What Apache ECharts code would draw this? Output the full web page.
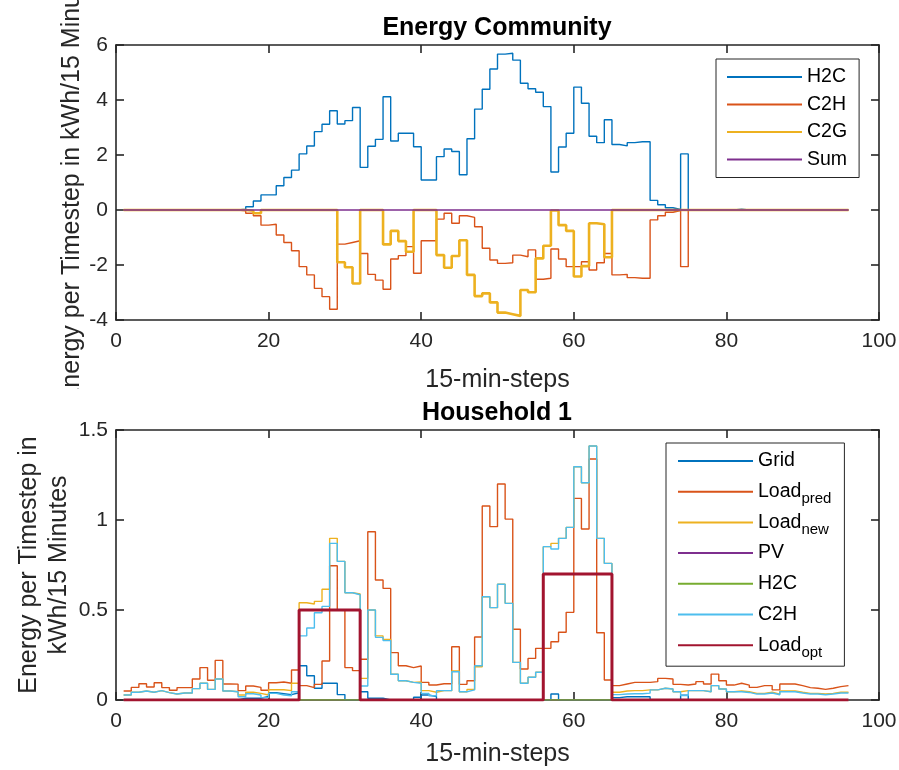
<!DOCTYPE html>
<html lang="en">
<head>
<meta charset="UTF-8">
<title>Energy Community</title>
<script src="https://cdn.jsdelivr.net/npm/echarts@6.0.0/dist/echarts.min.js"></script>
<style>
    html, body { margin: 0; padding: 0; background: #fff; }
    #main { width: 899px; height: 770px; }
</style>
</head>
<body>
<div id="main"></div>
<script type="text/javascript">

    // ---- Energy Community (values per 15-min step, step 1..96) ----
    var commH2C = [
        0, 0, 0, 0, 0, 0, 0, 0, 0, 0,
        0, 0, 0, 0, 0, 0.03, 0.12, 0.33, 0.55, 0.55,
        0.88, 1.18, 1.45, 2.04, 2.33, 2.85, 3.12, 3.61, 3.13, 3.25,
        3.73, 1.55, 2.32, 2.57, 4.12, 2.51, 2.79, 2.79, 2.30, 1.09,
        1.09, 1.94, 2.22, 2.13, 1.28, 2.59, 3.67, 4.39, 5.13, 5.67,
        5.70, 5.45, 4.61, 4.41, 4.28, 3.76, 1.38, 2.29, 2.79, 4.47,
        3.88, 2.68, 2.45, 3.28, 2.38, 2.33, 2.45, 2.48, 2.48, 0.35,
        0.19, 0.08, 0.02, 2.04, 0, 0, 0, 0, 0, 0,
        0.03, 0, 0, 0, 0, 0, 0, 0, 0, 0,
        0, 0, 0, 0, 0, 0
    ];
    var commC2H = [
        0, 0, 0, 0, 0, 0, 0, 0, 0, 0,
        0, 0, 0, 0, 0, -0.03, -0.12, -0.21, -0.55, -0.52,
        -0.91, -1.18, -1.48, -2.06, -2.36, -2.85, -3.15, -3.61, -1.24, -1.18,
        -1.12, -1.58, -2.34, -2.55, -2.88, -1.78, -1.66, -1.33, -2.30, -1.12,
        -1.12, -0.33, -0.12, -0.48, -0.21, -0.27, -0.61, -1.39, -1.82, -1.94,
        -1.92, -1.64, -1.70, -1.45, -2.52, -2.48, -1.42, -1.78, -2.06, -2.06,
        -1.88, -2.18, -1.92, -1.58, -2.36, -2.34, -2.46, -2.48, -2.48, -0.36,
        -0.21, -0.08, -0.02, -2.06, 0, 0, 0, 0, 0, 0,
        0, 0, 0, 0, 0, 0, 0, 0, 0, 0,
        0, 0, 0, 0, 0, 0
    ];
    var commC2G = [
        0, 0, 0, 0, 0, 0, 0, 0, 0, 0,
        0, 0, 0, 0, 0, 0, -0.03, -0.12, 0, 0,
        0, 0, 0, 0, 0, 0, 0, 0, -1.90, -2.08,
        -2.67, 0, 0, 0, -1.25, -0.76, -1.13, -1.52, 0, 0,
        0, -1.64, -2.10, -1.67, -1.10, -2.36, -3.13, -3.03, -3.36, -3.73,
        -3.79, -3.85, -2.91, -2.99, -1.76, -1.30, -0.02, -0.55, -0.76, -2.42,
        -2.04, -0.48, -0.52, -1.72, 0, 0, 0, 0, 0, 0,
        0, 0, 0, 0, 0, 0, 0, 0, 0, 0,
        0, 0, 0, 0, 0, 0, 0, 0, 0, 0,
        0, 0, 0, 0, 0, 0
    ];
    var commSum = [
        0, 0, 0, 0, 0, 0, 0, 0, 0, 0,
        0, 0, 0, 0, 0, 0, 0, 0, 0, 0,
        0, 0, 0, 0, 0, 0, 0, 0, 0, 0,
        0, 0, 0, 0, 0, 0, 0, 0, 0, 0,
        0, 0, 0, 0, 0, 0, 0, 0, 0, 0,
        0, 0, 0, 0, 0, 0, 0, 0, 0, 0,
        0, 0, 0, 0, 0, 0, 0, 0, 0, 0,
        0, 0, 0, 0, 0, 0, 0, 0, 0, 0,
        0, 0, 0, 0, 0, 0, 0, 0, 0, 0,
        0, 0, 0, 0, 0, 0
    ];

    // ---- Household 1 ----
    var hhGrid = [
        0, 0, 0, 0, 0, 0, 0, 0, 0, 0,
        0, 0, 0, 0, 0, 0.01, 0.01, 0.01, 0.02, 0.04,
        0.035, 0.03, 0.04, 0.19, 0.135, 0.065, 0.093, 0.093, 0.03, 0,
        0, 0.046, 0.01, 0.01, 0, 0, 0, 0, 0.015, 0.028,
        0.019, 0, 0, 0, 0, 0, 0, 0, 0, 0,
        0, 0, 0, 0, 0, 0, 0.033, 0, 0, 0,
        0, 0, 0, 0, 0.013, 0.018, 0.018, 0.018, 0.018, 0,
        0, 0, 0, 0.027, 0, 0, 0, 0, 0, 0,
        0, 0, 0, 0, 0, 0, 0, 0, 0, 0,
        0, 0, 0, 0, 0, 0
    ];
    var hhLoadPred = [
        0.05, 0.07, 0.09, 0.072, 0.096, 0.069, 0.054, 0.069, 0.069, 0.117,
        0.18, 0.11, 0.22, 0.089, 0.088, 0.052, 0.078, 0.07, 0.054, 0.096,
        0.10, 0.093, 0.167, 0.08, 0.069, 0.087, 0.217, 0.746, 0.50, 0.18,
        0.163, 0.226, 0.935, 0.667, 0.62, 0.263, 0.19, 0.18, 0.189, 0.098,
        0.083, 0.09, 0.09, 0.296, 0.087, 0.107, 0.35, 1.078, 0.963, 1.20,
        1.005, 0.393, 0.172, 0.231, 0.287, 0.287, 0.324, 0.376, 0.487, 1.12,
        0.95, 1.339, 0.374, 0.111, 0.08, 0.089, 0.098, 0.098, 0.098, 0.102,
        0.12, 0.117, 0.087, 0.083, 0.089, 0.102, 0.089, 0.144, 0.107, 0.083,
        0.093, 0.083, 0.07, 0.08, 0.08, 0.056, 0.089, 0.089, 0.08, 0.069,
        0.065, 0.059, 0.065, 0.074, 0.08, 0.08
    ];
    var hhLoadNew = [
        0.028, 0.043, 0.05, 0.043, 0.052, 0.041, 0.033, 0.039, 0.039, 0.063,
        0.093, 0.059, 0.117, 0.05, 0.046, 0.028, 0.043, 0.037, 0.028, 0.057,
        0.057, 0.052, 0.093, 0.54, 0.533, 0.548, 0.615, 0.898, 0.77, 0.596,
        0.589, 0.12, 0.5, 0.356, 0.337, 0.143, 0.107, 0.098, 0.10, 0.052,
        0.043, 0.052, 0.052, 0.161, 0.046, 0.059, 0.185, 0.574, 0.513, 0.643,
        0.537, 0.209, 0.093, 0.126, 0.154, 0.852, 0.87, 0.898, 0.959, 1.296,
        1.207, 1.411, 0.898, 0.759, 0.043, 0.05, 0.052, 0.052, 0.056, 0.056,
        0.065, 0.061, 0.046, 0.052, 0.052, 0.052, 0.046, 0.08, 0.061, 0.046,
        0.05, 0.046, 0.037, 0.037, 0.043, 0.033, 0.05, 0.05, 0.043, 0.037,
        0.037, 0.033, 0.037, 0.043, 0.043, 0.043
    ];
    var hhPV = [
        0, 0, 0, 0, 0, 0, 0, 0, 0, 0,
        0, 0, 0, 0, 0, 0, 0, 0, 0, 0,
        0, 0, 0, 0, 0, 0, 0, 0, 0, 0,
        0, 0, 0, 0, 0, 0, 0, 0, 0, 0,
        0, 0, 0, 0, 0, 0, 0, 0, 0, 0,
        0, 0, 0, 0, 0, 0, 0, 0, 0, 0,
        0, 0, 0, 0, 0, 0, 0, 0, 0, 0,
        0, 0, 0, 0, 0, 0, 0, 0, 0, 0,
        0, 0, 0, 0, 0, 0, 0, 0, 0, 0,
        0, 0, 0, 0, 0, 0
    ];
    var hhH2C = [
        0, 0, 0, 0, 0, 0, 0, 0, 0, 0,
        0, 0, 0, 0, 0, 0, 0, 0, 0, 0,
        0, 0, 0, 0, 0, 0, 0, 0, 0, 0,
        0, 0, 0, 0, 0, 0, 0, 0, 0, 0,
        0, 0, 0, 0, 0, 0, 0, 0, 0, 0,
        0, 0, 0, 0, 0, 0, 0, 0, 0, 0,
        0, 0, 0, 0, 0, 0, 0, 0, 0, 0,
        0, 0, 0, 0, 0, 0, 0, 0, 0, 0,
        0, 0, 0, 0, 0, 0, 0, 0, 0, 0,
        0, 0, 0, 0, 0, 0
    ];
    var hhC2H = [
        0.028, 0.043, 0.05, 0.043, 0.052, 0.041, 0.033, 0.039, 0.039, 0.063,
        0.093, 0.059, 0.117, 0.05, 0.046, 0.018, 0.035, 0.028, 0.013, 0.037,
        0.028, 0.024, 0.046, 0.356, 0.40, 0.485, 0.52, 0.87, 0.77, 0.596,
        0.585, 0.078, 0.5, 0.348, 0.33, 0.143, 0.107, 0.098, 0.093, 0.037,
        0.024, 0.052, 0.052, 0.157, 0.046, 0.056, 0.19, 0.574, 0.513, 0.643,
        0.537, 0.209, 0.093, 0.126, 0.154, 0.852, 0.839, 0.898, 0.959, 1.296,
        1.207, 1.411, 0.898, 0.759, 0.03, 0.033, 0.035, 0.035, 0.038, 0.056,
        0.065, 0.061, 0.046, 0.025, 0.052, 0.052, 0.046, 0.08, 0.061, 0.046,
        0.046, 0.042, 0.033, 0.033, 0.039, 0.029, 0.046, 0.046, 0.039, 0.033,
        0.033, 0.029, 0.033, 0.039, 0.039, 0.039
    ];
    var hhLoadOpt = [
        0, 0, 0, 0, 0, 0, 0, 0, 0, 0,
        0, 0, 0, 0, 0, 0, 0, 0, 0, 0,
        0, 0, 0, 0.5, 0.5, 0.5, 0.5, 0.5, 0.5, 0.5,
        0.5, 0, 0, 0, 0, 0, 0, 0, 0, 0,
        0, 0, 0, 0, 0, 0, 0, 0, 0, 0,
        0, 0, 0, 0, 0, 0.7, 0.7, 0.7, 0.7, 0.7,
        0.7, 0.7, 0.7, 0.7, 0, 0, 0, 0, 0, 0,
        0, 0, 0, 0, 0, 0, 0, 0, 0, 0,
        0, 0, 0, 0, 0, 0, 0, 0, 0, 0,
        0, 0, 0, 0, 0, 0
    ];

    var xTicks = [0, 20, 40, 60, 80, 100];
    var yTicksTop = [-4, -2, 0, 2, 4, 6];
    var yTicksBottom = [0, 0.5, 1, 1.5];

    var FONT = '"Liberation Sans", Arial, Helvetica, sans-serif';
    var AXC = '#262626';
    var legendLabels = {
        Load_pred: 'Load{s|pred}',
        Load_new: 'Load{s|new}',
        H2C_hh: 'H2C',
        C2H_hh: 'C2H',
        Load_opt: 'Load{s|opt}'
    };

    // stairs: value k holds from step k to step k+1
    function stairs(arr) {
        return arr.map(function (v, k) { return [k + 1, v]; });
    }

    function stepLine(name, arr, color, width, idx) {
        return {
            name: name,
            type: 'line',
            step: 'end',
            xAxisIndex: idx,
            yAxisIndex: idx,
            data: stairs(arr),
            symbol: 'none',
            showSymbol: false,
            lineStyle: {color: color, width: width},
            itemStyle: {color: color},
            emphasis: {disabled: true}
        };
    }

    function xAx(gridIndex, pos, ticks, showLabel, name, gap) {
        return {
            type: 'value', gridIndex: gridIndex, position: pos,
            min: ticks[0], max: ticks[ticks.length - 1], interval: ticks[1] - ticks[0],
            name: name || '', nameLocation: 'middle', nameGap: gap || 0,
            nameTextStyle: {fontSize: 25, color: AXC, fontFamily: FONT},
            axisLine: {show: true, onZero: false, lineStyle: {color: AXC, width: 1.6}},
            axisTick: {show: true, inside: true, length: 8, lineStyle: {color: AXC, width: 1.6}},
            axisLabel: {show: showLabel, fontSize: 21, color: AXC, fontFamily: FONT, margin: 11},
            splitLine: {show: false}
        };
    }

    function yAx(gridIndex, pos, ticks, showLabel, name, gap, lh) {
        return {
            type: 'value', gridIndex: gridIndex, position: pos,
            min: ticks[0], max: ticks[ticks.length - 1], interval: ticks[1] - ticks[0],
            name: name || '', nameLocation: 'middle', nameGap: gap || 0,
            nameMoveOverlap: false,
            nameTextStyle: {fontSize: 25, color: AXC, fontFamily: FONT, lineHeight: lh || 28},
            axisLine: {show: true, onZero: false, lineStyle: {color: AXC, width: 1.6}},
            axisTick: {show: true, inside: true, length: 8, lineStyle: {color: AXC, width: 1.6}},
            axisLabel: {show: showLabel, fontSize: 21, color: AXC, fontFamily: FONT, margin: 8},
            splitLine: {show: false}
        };
    }

    var myChart = echarts.init(document.getElementById('main'), null, {renderer: 'canvas'});

    var option = {
        backgroundColor: '#fff',
        animation: false,
        title: [
            {text: 'Energy Community', left: 497, top: 16, textAlign: 'center', padding: 0,
                textStyle: {fontSize: 25, fontWeight: 'bold', color: '#000', fontFamily: FONT}},
            {text: 'Household 1', left: 497, top: 401, textAlign: 'center', padding: 0,
                textStyle: {fontSize: 25, fontWeight: 'bold', color: '#000', fontFamily: FONT}}
        ],
        grid: [
            {left: 116, right: 20, top: 45, height: 275, containLabel: false, outerBoundsMode: 'none'},
            {left: 116, right: 20, top: 430, height: 270, containLabel: false, outerBoundsMode: 'none'}
        ],
        xAxis: [
            xAx(0, 'bottom', xTicks, true, '15-min-steps', 48),
            xAx(0, 'top', xTicks, false),
            xAx(1, 'bottom', xTicks, true, '15-min-steps', 42),
            xAx(1, 'top', xTicks, false)
        ],
        yAxis: [
            yAx(0, 'left', yTicksTop, true, 'Energy per Timestep in kWh/15 Minutes', 30),
            yAx(0, 'right', yTicksTop, false),
            yAx(1, 'left', yTicksBottom, true, 'Energy per Timestep in\nkWh/15 Minutes', 42, 30),
            yAx(1, 'right', yTicksBottom, false)
        ],
        legend: [
            {
                orient: 'vertical', left: 716, top: 59,
                padding: [8, 12, 8, 10], itemWidth: 75, itemHeight: 14, itemGap: 7.5,
                backgroundColor: '#fff', borderColor: AXC, borderWidth: 1,
                itemStyle: {opacity: 0},
                textStyle: {fontSize: 19.5, lineHeight: 20, color: '#000', fontFamily: FONT},
                data: ['H2C', 'C2H', 'C2G', 'Sum']
            },
            {
                orient: 'vertical', left: 666, top: 443,
                padding: [3, 13, 6, 11], itemWidth: 75, itemHeight: 14, itemGap: 0.7,
                backgroundColor: '#fff', borderColor: AXC, borderWidth: 1,
                itemStyle: {opacity: 0},
                textStyle: {
                    fontSize: 19.5, lineHeight: 30, color: '#000', fontFamily: FONT,
                    rich: {s: {fontSize: 15, lineHeight: 10, verticalAlign: 'bottom', color: '#000', fontFamily: FONT}}
                },
                formatter: function (name) { return legendLabels[name] || name; },
                data: ['Grid', 'Load_pred', 'Load_new', 'PV', 'H2C_hh', 'C2H_hh', 'Load_opt']
            }
        ],
        // the upper y label is cut off just above the lower title in the figure
        graphic: [
            {type: 'rect', z: 100, shape: {x: 40, y: 389, width: 60, height: 22}, style: {fill: '#fff'}}
        ],
        series: [
            stepLine('H2C', commH2C, '#0072BD', 1.4, 0),
            stepLine('C2H', commC2H, '#D95319', 1.4, 0),
            stepLine('C2G', commC2G, '#EDB120', 2.6, 0),
            stepLine('Sum', commSum, '#7E2F8E', 1.4, 0),

            stepLine('Grid', hhGrid, '#0072BD', 1.4, 2),
            stepLine('Load_pred', hhLoadPred, '#D95319', 1.4, 2),
            stepLine('Load_new', hhLoadNew, '#EDB120', 1.4, 2),
            stepLine('PV', hhPV, '#7E2F8E', 1.4, 2),
            stepLine('H2C_hh', hhH2C, '#77AC30', 1.4, 2),
            stepLine('C2H_hh', hhC2H, '#4DBEEE', 1.4, 2),
            stepLine('Load_opt', hhLoadOpt, '#A2142F', 3, 2)
        ]
    };

    myChart.setOption(option);
</script>
</body>
</html>
